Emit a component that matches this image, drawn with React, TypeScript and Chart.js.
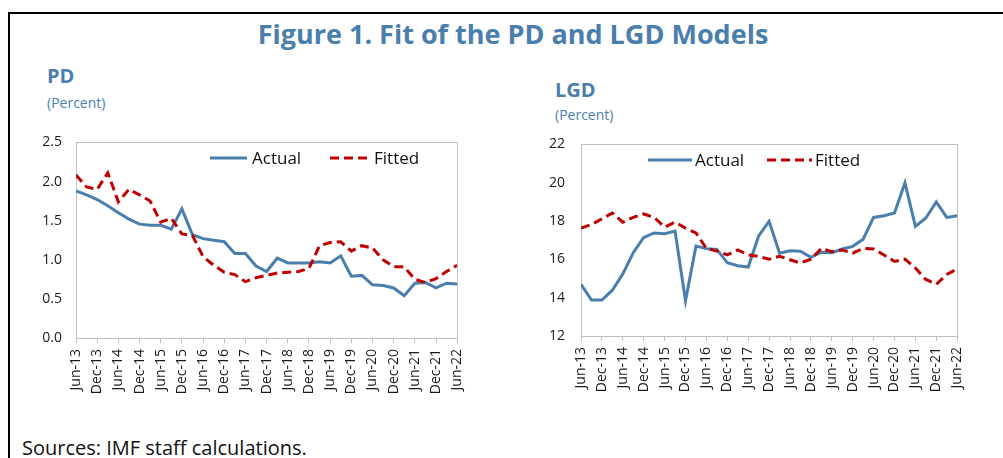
import React, { useEffect, useRef } from "react";
import { Chart, registerables } from "chart.js";

Chart.register(...registerables);

const quarters = [
  "Jun-13", "Sep-13", "Dec-13", "Mar-14", "Jun-14", "Sep-14", "Dec-14", "Mar-15",
  "Jun-15", "Sep-15", "Dec-15", "Mar-16", "Jun-16", "Sep-16", "Dec-16", "Mar-17",
  "Jun-17", "Sep-17", "Dec-17", "Mar-18", "Jun-18", "Sep-18", "Dec-18", "Mar-19",
  "Jun-19", "Sep-19", "Dec-19", "Mar-20", "Jun-20", "Sep-20", "Dec-20", "Mar-21",
  "Jun-21", "Sep-21", "Dec-21", "Mar-22", "Jun-22",
];

const tickLabels = [
  "Jun-13", "Dec-13", "Jun-14", "Dec-14", "Jun-15", "Dec-15", "Jun-16", "Dec-16",
  "Jun-17", "Dec-17", "Jun-18", "Dec-18", "Jun-19", "Dec-19", "Jun-20", "Dec-20",
  "Jun-21", "Dec-21", "Jun-22",
];

const pdActual = [
  1.88, 1.83, 1.77, 1.69, 1.6, 1.52, 1.455, 1.44, 1.44, 1.39, 1.65, 1.32, 1.27,
  1.25, 1.23, 1.08, 1.08, 0.92, 0.85, 1.02, 0.96, 0.96, 0.96, 0.975, 0.96, 1.05,
  0.79, 0.8, 0.68, 0.67, 0.64, 0.54, 0.7, 0.71, 0.64, 0.7, 0.69,
];

const pdFitted = [
  2.085, 1.93, 1.9, 2.11, 1.74, 1.9, 1.83, 1.75, 1.48, 1.53, 1.33, 1.31, 1.04,
  0.93, 0.84, 0.81, 0.72, 0.77, 0.8, 0.83, 0.84, 0.85, 0.89, 1.18, 1.22, 1.23,
  1.11, 1.18, 1.15, 1.0, 0.91, 0.91, 0.75, 0.71, 0.76, 0.85, 0.93,
];

const lgdActual = [
  14.7, 13.88, 13.88, 14.39, 15.24, 16.35, 17.14, 17.38, 17.34, 17.48, 13.84,
  16.69, 16.56, 16.52, 15.82, 15.67, 15.6, 17.22, 17.99, 16.32, 16.45, 16.42,
  16.11, 16.37, 16.35, 16.54, 16.68, 17.05, 18.19, 18.28, 18.42, 19.99, 17.72,
  18.16, 19.0, 18.19, 18.28,
];

const lgdFitted = [
  17.63, 17.82, 18.11, 18.42, 17.94, 18.19, 18.37, 18.19, 17.68, 17.94, 17.63,
  17.38, 16.57, 16.44, 16.23, 16.49, 16.23, 16.15, 16.01, 16.16, 15.98, 15.81,
  16.01, 16.57, 16.4, 16.49, 16.32, 16.57, 16.54, 16.23, 15.89, 16.01, 15.55,
  14.95, 14.7, 15.21, 15.5,
];

const seriesNames = ["Actual", "Fitted"];

const BLUE = "#4a7eac";
const RED = "#c00000";
const AXIS = "#bfbfbf";
const FONT = "'Open Sans', 'Noto Sans', sans-serif";

const boxPlugin = {
  id: "plotBox",
  beforeDatasetsDraw(chart: any) {
    const { ctx, chartArea: a } = chart;
    ctx.save();
    ctx.strokeStyle = AXIS;
    ctx.lineWidth = 1;
    ctx.strokeRect(
      Math.round(a.left) + 0.5,
      Math.round(a.top) + 0.5,
      Math.round(a.right - a.left),
      Math.round(a.bottom - a.top)
    );
    ctx.restore();
  },
};

type PanelOpts = {
  actual: number[];
  fitted: number[];
  yMin: number;
  yMax: number;
  yStep: number;
  decimals: number;
  yWidth: number;
  xHeight: number;
  padTop: number;
  padRight: number;
  yPad: number;
};

function Panel(props: PanelOpts & { left: number; top: number; width: number; height: number }) {
  const ref = useRef<HTMLCanvasElement | null>(null);
  useEffect(() => {
    if (!ref.current) return;
    const p = props;
    const chart = new Chart(ref.current, {
      type: "line",
      data: {
        datasets: [
          {
            label: seriesNames[0],
            data: p.actual.map((v, i) => ({ x: i, y: v })),
            borderColor: BLUE,
            backgroundColor: BLUE,
            borderWidth: 3,
            pointRadius: 0,
            tension: 0,
            order: 2,
          },
          {
            label: seriesNames[1],
            data: p.fitted.map((v, i) => ({ x: i, y: v })),
            borderColor: RED,
            backgroundColor: RED,
            borderWidth: 3,
            borderDash: [9, 5],
            pointRadius: 0,
            tension: 0,
            order: 1,
          },
        ],
      },
      options: {
        responsive: false,
        animation: false,
        events: [],
        layout: { padding: { top: p.padTop, right: p.padRight, left: 0, bottom: 0 } },
        plugins: { legend: { display: false }, tooltip: { enabled: false } },
        scales: {
          x: {
            type: "linear",
            min: 0,
            max: quarters.length - 1,
            afterBuildTicks: (s: any) => {
              s.ticks = tickLabels.map((t) => ({ value: quarters.indexOf(t) }));
            },
            afterFit: (s: any) => {
              s.height = p.xHeight;
            },
            ticks: {
              autoSkip: false,
              minRotation: 90,
              maxRotation: 90,
              padding: 6,
              color: "#1a1a1a",
              font: { family: FONT, size: 14 },
              callback: (v: any) => quarters[Math.round(Number(v))],
            },
            grid: {
              drawOnChartArea: false,
              drawTicks: true,
              tickLength: 5,
              color: AXIS,
            },
            border: { display: true, color: AXIS },
          },
          y: {
            type: "linear",
            min: p.yMin,
            max: p.yMax,
            afterFit: (s: any) => {
              s.width = p.yWidth;
            },
            ticks: {
              stepSize: p.yStep,
              padding: p.yPad,
              color: "#1a1a1a",
              font: { family: FONT, size: 14 },
              callback: (v: any) => Number(v).toFixed(p.decimals),
            },
            grid: { drawOnChartArea: false, drawTicks: false },
            border: { display: true, color: AXIS },
          },
        },
      },
      plugins: [boxPlugin],
    } as any);
    return () => chart.destroy();
  }, []);
  return (
    <canvas
      ref={ref}
      width={props.width}
      height={props.height}
      style={{ position: "absolute", left: props.left, top: props.top, width: props.width, height: props.height }}
    />
  );
}

function LegendItem({ x, y, lineEnd, textX, dashed, color, label }: any) {
  const w = lineEnd - x;
  return (
    <>
      <svg
        width={w}
        height={6}
        style={{ position: "absolute", left: x, top: y - 3 }}
      >
        <line
          x1={0}
          y1={3}
          x2={w}
          y2={3}
          stroke={color}
          strokeWidth={3}
          strokeDasharray={dashed ? "9 5" : undefined}
        />
      </svg>
      <span
        style={{
          position: "absolute",
          left: textX,
          top: y - 12,
          fontFamily: FONT,
          fontSize: 17,
          lineHeight: "24px",
          color: "#111",
          whiteSpace: "nowrap",
        }}
      >
        {label}
      </span>
    </>
  );
}

export default function App() {
  return (
    <div
      style={{
        position: "fixed",
        left: 0,
        top: 0,
        width: 1003,
        height: 458,
        overflow: "hidden",
        background: "#fff",
        fontFamily: FONT,
      }}
    >
      <div
        style={{
          position: "absolute",
          left: 8,
          top: 12,
          width: 1100,
          height: 600,
          borderTop: "2px solid #000",
          borderLeft: "2px solid #000",
        }}
      />
      <div
        style={{
          position: "absolute",
          left: 0,
          width: 1026,
          top: 15,
          textAlign: "center",
          fontSize: 27,
          fontWeight: 700,
          lineHeight: "38px",
          color: BLUE,
          whiteSpace: "nowrap",
        }}
      >
        Figure 1. Fit of the PD and LGD Models
      </div>
      <div style={{ position: "absolute", left: 47, top: 62, fontSize: 20, fontWeight: 700, color: BLUE, lineHeight: "28px" }}>PD</div>
      <div style={{ position: "absolute", left: 47, top: 93, fontSize: 14, color: BLUE, lineHeight: "20px" }}>(Percent)</div>
      <div style={{ position: "absolute", left: 555, top: 76, fontSize: 20, fontWeight: 700, color: BLUE, lineHeight: "28px" }}>LGD</div>
      <div style={{ position: "absolute", left: 555, top: 105, fontSize: 14, color: BLUE, lineHeight: "20px" }}>(Percent)</div>

      <Panel
        left={20}
        top={120}
        width={460}
        height={300}
        actual={pdActual}
        fitted={pdFitted}
        yMin={0}
        yMax={2.5}
        yStep={0.5}
        decimals={1}
        yWidth={56}
        xHeight={82}
        padTop={13}
        padRight={10}
        yPad={14}
      />
      <Panel
        left={520}
        top={120}
        width={460}
        height={300}
        actual={lgdActual}
        fitted={lgdFitted}
        yMin={12}
        yMax={22}
        yStep={2}
        decimals={0}
        yWidth={61}
        xHeight={84}
        padTop={21}
        padRight={19}
        yPad={16}
      />

      <LegendItem x={210} lineEnd={247} textX={252} y={158} color={BLUE} label={seriesNames[0]} />
      <LegendItem x={330} lineEnd={371} textX={374} y={158} color={RED} dashed label={seriesNames[1]} />
      <LegendItem x={648} lineEnd={692} textX={695} y={160} color={BLUE} label={seriesNames[0]} />
      <LegendItem x={767} lineEnd={812} textX={815} y={160} color={RED} dashed label={seriesNames[1]} />

      <div
        style={{
          position: "absolute",
          left: 22,
          top: 435,
          fontSize: 20,
          color: "#111",
          lineHeight: "26px",
          whiteSpace: "nowrap",
        }}
      >
        Sources: IMF staff calculations.
      </div>
    </div>
  );
}
